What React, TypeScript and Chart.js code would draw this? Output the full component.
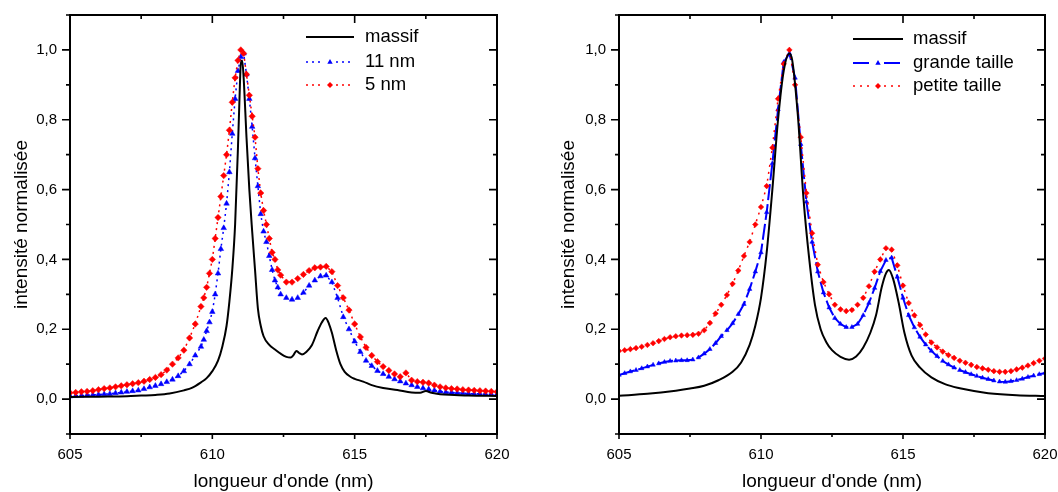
import React, { useEffect, useRef } from 'react';
import { Chart, registerables } from 'chart.js';

Chart.register(...registerables);

const FONT = "'Liberation Sans', Arial, sans-serif";

// axes
const xTickLabels = [605, 610, 615, 620];
const xMinorTicks = [607.5, 612.5, 617.5];
const yTickLabels = [0, 0.2, 0.4, 0.6, 0.8, 1.0];
const yMinorTicks = [-0.1, 0.1, 0.3, 0.5, 0.7, 0.9, 1.1];

// ---------- left panel ----------
const leftLabels = ['massif', '11 nm', '5 nm'];

const leftMassifX = [605, 606, 607, 607.5, 608, 608.5, 609, 609.3, 609.6, 609.8, 610, 610.2, 610.35, 610.5, 610.6, 610.7, 610.8, 610.9, 610.95, 611, 611.05, 611.1, 611.2, 611.3, 611.4, 611.5, 611.6, 611.7, 611.8, 612, 612.2, 612.4, 612.6, 612.75, 612.85, 612.95, 613.05, 613.15, 613.3, 613.5, 613.7, 613.85, 613.98, 614.1, 614.2, 614.35, 614.5, 614.65, 614.85, 615, 615.3, 615.6, 616, 616.5, 617, 617.3, 617.5, 617.7, 618, 618.5, 619, 620];
const leftMassifY = [0.006, 0.007, 0.008, 0.010, 0.012, 0.016, 0.025, 0.033, 0.048, 0.060, 0.080, 0.11, 0.15, 0.21, 0.28, 0.37, 0.50, 0.72, 0.85, 0.96, 0.97, 0.92, 0.75, 0.60, 0.48, 0.37, 0.26, 0.21, 0.18, 0.155, 0.142, 0.130, 0.121, 0.119, 0.126, 0.138, 0.132, 0.128, 0.135, 0.155, 0.195, 0.22, 0.232, 0.215, 0.19, 0.14, 0.10, 0.078, 0.064, 0.058, 0.050, 0.040, 0.032, 0.026, 0.019, 0.018, 0.023, 0.018, 0.014, 0.012, 0.010, 0.009];

const leftSampleX = [605, 605.2, 605.4, 605.6, 605.8, 606, 606.2, 606.4, 606.6, 606.8, 607, 607.2, 607.4, 607.6, 607.8, 608, 608.2, 608.4, 608.6, 608.8, 609, 609.2, 609.4,
  609.6, 609.7, 609.8, 609.9, 610, 610.1, 610.2, 610.3, 610.4, 610.5, 610.6, 610.7, 610.8, 610.9, 611, 611.1, 611.2, 611.3, 611.4, 611.5, 611.6, 611.7, 611.8, 611.9, 612, 612.1, 612.2, 612.3, 612.4,
  612.6, 612.8, 613, 613.2, 613.4, 613.6, 613.8, 614, 614.2, 614.4, 614.6, 614.8, 615, 615.2, 615.4, 615.6, 615.8, 616, 616.2, 616.4, 616.6, 616.8, 617, 617.2, 617.4, 617.6, 617.8, 618, 618.2, 618.4, 618.6, 618.8, 619, 619.2, 619.4, 619.6, 619.8, 620];
const left11nmY = [0.008, 0.009, 0.010, 0.011, 0.012, 0.013, 0.014, 0.015, 0.017, 0.019, 0.021, 0.023, 0.025, 0.029, 0.034, 0.038, 0.043, 0.049, 0.056, 0.066, 0.080, 0.100, 0.125,
  0.150, 0.170, 0.195, 0.22, 0.25, 0.30, 0.36, 0.43, 0.49, 0.56, 0.65, 0.76, 0.86, 0.94, 0.98, 0.99, 0.93, 0.86, 0.78, 0.69, 0.61, 0.53, 0.48, 0.45, 0.41, 0.37, 0.34, 0.32, 0.30,
  0.29, 0.285, 0.29, 0.305, 0.325, 0.34, 0.352, 0.354, 0.335, 0.29, 0.235, 0.20, 0.165, 0.135, 0.11, 0.095, 0.081, 0.072, 0.064, 0.057, 0.051, 0.045, 0.040, 0.035, 0.031, 0.028, 0.025, 0.022, 0.020, 0.019, 0.018, 0.017, 0.016, 0.015, 0.015, 0.014, 0.014, 0.013];
const left5nmY = [0.018, 0.019, 0.021, 0.022, 0.024, 0.027, 0.030, 0.032, 0.035, 0.038, 0.041, 0.044, 0.047, 0.051, 0.056, 0.062, 0.070, 0.083, 0.100, 0.118, 0.140, 0.175, 0.215,
  0.265, 0.29, 0.32, 0.36, 0.40, 0.46, 0.52, 0.58, 0.64, 0.70, 0.77, 0.85, 0.92, 0.97, 1.00, 0.99, 0.93, 0.87, 0.81, 0.75, 0.66, 0.59, 0.54, 0.50, 0.46, 0.42, 0.40, 0.37, 0.355,
  0.335, 0.335, 0.345, 0.357, 0.368, 0.376, 0.378, 0.380, 0.365, 0.325, 0.29, 0.255, 0.215, 0.178, 0.148, 0.125, 0.107, 0.093, 0.082, 0.072, 0.064, 0.075, 0.054, 0.050, 0.048, 0.046, 0.040, 0.035, 0.032, 0.030, 0.029, 0.027, 0.026, 0.025, 0.024, 0.023, 0.022, 0.021];

// ---------- right panel ----------
const rightLabels = ['massif', 'grande taille', 'petite taille'];

const rightMassifX = [605, 606, 607, 607.5, 608, 608.5, 609, 609.3, 609.6, 609.8, 610, 610.2, 610.4, 610.6, 610.8, 611, 611.1, 611.3, 611.5, 611.7, 611.9, 612.1, 612.3, 612.5, 612.8, 613.1, 613.35, 613.6, 613.85, 614.05, 614.25, 614.4, 614.5, 614.65, 614.85, 615.05, 615.3, 615.6, 616, 616.5, 617, 617.5, 618, 619, 620];
const rightMassifY = [0.0095, 0.015, 0.024, 0.030, 0.038, 0.054, 0.078, 0.105, 0.155, 0.21, 0.29, 0.42, 0.60, 0.80, 0.94, 0.99, 0.97, 0.81, 0.57, 0.40, 0.27, 0.20, 0.163, 0.14, 0.121, 0.113, 0.122, 0.148, 0.19, 0.24, 0.32, 0.36, 0.37, 0.345, 0.275, 0.19, 0.125, 0.09, 0.062, 0.042, 0.031, 0.023, 0.017, 0.011, 0.0086];

const rightSampleX = [605, 605.2, 605.4, 605.6, 605.8, 606, 606.2, 606.4, 606.6, 606.8, 607, 607.2, 607.4, 607.6, 607.8, 608, 608.2, 608.4, 608.6, 608.8, 609, 609.2, 609.4, 609.6, 609.8, 610, 610.2, 610.4, 610.6, 610.8, 611, 611.2, 611.4, 611.6, 611.8, 612, 612.2, 612.4, 612.6, 612.8, 613, 613.2, 613.4, 613.6, 613.8, 614, 614.2, 614.4, 614.6, 614.8, 615, 615.2, 615.4, 615.6, 615.8, 616, 616.2, 616.4, 616.6, 616.8, 617, 617.2, 617.4, 617.6, 617.8, 618, 618.2, 618.4, 618.6, 618.8, 619, 619.2, 619.4, 619.6, 619.8, 620];
const rightGrandeY = [0.069, 0.074, 0.079, 0.083, 0.088, 0.093, 0.098, 0.102, 0.106, 0.109, 0.110, 0.111, 0.111, 0.113, 0.119, 0.13, 0.143, 0.16, 0.18, 0.197, 0.217, 0.243, 0.272, 0.315, 0.365, 0.42, 0.535, 0.675, 0.83, 0.965, 0.99, 0.92, 0.73, 0.565, 0.45, 0.365, 0.305, 0.262, 0.232, 0.215, 0.206, 0.206, 0.215, 0.24, 0.275, 0.318, 0.366, 0.398, 0.405, 0.35, 0.29, 0.24, 0.205, 0.178, 0.156, 0.138, 0.123, 0.109, 0.099, 0.09, 0.083, 0.077, 0.071, 0.066, 0.061, 0.057, 0.053, 0.05, 0.049, 0.051, 0.054, 0.058, 0.063, 0.067, 0.071, 0.075];
const rightPetiteY = [0.138, 0.14, 0.143, 0.146, 0.15, 0.155, 0.16, 0.166, 0.172, 0.177, 0.18, 0.182, 0.183, 0.184, 0.187, 0.197, 0.218, 0.245, 0.27, 0.298, 0.33, 0.368, 0.41, 0.45, 0.50, 0.55, 0.61, 0.72, 0.86, 0.96, 1.0, 0.90, 0.75, 0.59, 0.475, 0.385, 0.335, 0.30, 0.27, 0.257, 0.252, 0.255, 0.27, 0.29, 0.323, 0.365, 0.40, 0.432, 0.428, 0.383, 0.325, 0.275, 0.24, 0.212, 0.185, 0.162, 0.148, 0.136, 0.126, 0.118, 0.11, 0.104, 0.098, 0.092, 0.088, 0.084, 0.08, 0.078, 0.078, 0.08, 0.085, 0.09, 0.096, 0.103, 0.11, 0.116];

const zip = (xs: number[], ys: number[]) => xs.map((x, i) => ({ x, y: ys[i] }));

const framePlugin = {
  id: 'frame',
  afterDatasetsDraw(chart: any) {
    const { ctx, chartArea, scales } = chart;
    const { left, right, top, bottom } = chartArea;
    const x = scales.x, y = scales.y;
    ctx.save();
    ctx.setLineDash([]);
    ctx.strokeStyle = '#000';
    ctx.lineWidth = 2;
    ctx.strokeRect(left, top, right - left, bottom - top);
    ctx.lineWidth = 1.6;
    ctx.beginPath();
    yTickLabels.forEach((v) => {
      const p = y.getPixelForValue(v);
      ctx.moveTo(left - 8, p); ctx.lineTo(left, p);
      ctx.moveTo(right - 8, p); ctx.lineTo(right, p);
    });
    yMinorTicks.forEach((v) => {
      const p = y.getPixelForValue(v);
      ctx.moveTo(left - 4, p); ctx.lineTo(left, p);
      ctx.moveTo(right - 4, p); ctx.lineTo(right, p);
    });
    xTickLabels.forEach((v) => {
      const p = x.getPixelForValue(v);
      ctx.moveTo(p, bottom); ctx.lineTo(p, bottom + 5);
      ctx.moveTo(p, top); ctx.lineTo(p, top + 8);
    });
    xMinorTicks.forEach((v) => {
      const p = x.getPixelForValue(v);
      ctx.moveTo(p, bottom); ctx.lineTo(p, bottom + 3);
      ctx.moveTo(p, top); ctx.lineTo(p, top + 4);
    });
    ctx.stroke();
    ctx.restore();
  },
};

function drawMarker(ctx: CanvasRenderingContext2D, style: string, cx: number, cy: number, r: number, color: string) {
  ctx.save();
  ctx.setLineDash([]);
  ctx.fillStyle = color;
  ctx.beginPath();
  if (style === 'triangle') {
    ctx.moveTo(cx, cy - r);
    ctx.lineTo(cx + r * 0.9, cy + r * 0.6);
    ctx.lineTo(cx - r * 0.9, cy + r * 0.6);
  } else {
    ctx.moveTo(cx, cy - r);
    ctx.lineTo(cx + r, cy);
    ctx.lineTo(cx, cy + r);
    ctx.lineTo(cx - r, cy);
  }
  ctx.closePath();
  ctx.fill();
  ctx.restore();
}

function makeLegend(labels: string[], lineX0: number, lineX1: number, textX: number, rowY: number[]) {
  return {
    id: 'customLegend',
    afterDatasetsDraw(chart: any) {
      const ctx: CanvasRenderingContext2D = chart.ctx;
      ctx.save();
      chart.data.datasets.forEach((ds: any, i: number) => {
        const yy = rowY[i];
        const mid = (lineX0 + lineX1) / 2;
        ctx.strokeStyle = ds.borderColor;
        ctx.lineWidth = ds.borderWidth;
        ctx.setLineDash(ds.borderDash || []);
        ctx.beginPath();
        if (ds.pointRadius > 0) {
          ctx.moveTo(lineX0, yy); ctx.lineTo(mid - 6, yy);
          ctx.stroke();
          ctx.beginPath();
          ctx.moveTo(mid + 6, yy); ctx.lineTo(lineX1, yy);
          ctx.stroke();
          drawMarker(ctx, ds.pointStyle, mid, yy, 3, ds.borderColor);
        } else {
          ctx.moveTo(lineX0, yy); ctx.lineTo(lineX1, yy);
          ctx.stroke();
        }
        ctx.setLineDash([]);
        ctx.fillStyle = '#000';
        ctx.font = `18.5px ${FONT}`;
        ctx.textBaseline = 'middle';
        ctx.textAlign = 'left';
        ctx.fillText(labels[i], textX, yy);
      });
      ctx.restore();
    },
  };
}

function makeOptions(yAxisWidth: number, padRight: number, yTitlePad: number) {
  return {
    responsive: false,
    animation: false as const,
    devicePixelRatio: 1,
    layout: { padding: { left: 0, right: padRight, top: 15, bottom: 0 } },
    plugins: { legend: { display: false }, tooltip: { enabled: false } },
    scales: {
      x: {
        type: 'linear' as const,
        min: 605,
        max: 620,
        afterBuildTicks: (s: any) => { s.ticks = xTickLabels.map((v) => ({ value: v })); },
        afterFit: (s: any) => { s.height = 58; s.paddingLeft = 0; s.paddingRight = 0; },
        grid: { display: false, drawTicks: false },
        border: { display: false },
        ticks: {
          padding: 12,
          color: '#000',
          maxRotation: 0,
          autoSkip: false,
          font: { family: FONT, size: 15, lineHeight: 1.2 },
          callback: (v: any) => String(v),
        },
        title: {
          display: true,
          text: "longueur d'onde (nm)",
          color: '#000',
          font: { family: FONT, size: 19, lineHeight: 1 },
          padding: { top: 0, bottom: 0.5 },
        },
      },
      y: {
        type: 'linear' as const,
        min: -0.1,
        max: 1.1,
        afterBuildTicks: (s: any) => { s.ticks = yTickLabels.map((v) => ({ value: v })); },
        afterFit: (s: any) => { s.width = yAxisWidth; s.paddingTop = 0; s.paddingBottom = 0; },
        grid: { display: false, drawTicks: false },
        border: { display: false },
        ticks: {
          padding: 13,
          color: '#000',
          font: { family: FONT, size: 15 },
          callback: (v: any) => Number(v).toFixed(1).replace('.', ','),
        },
        title: {
          display: true,
          text: 'intensité normalisée',
          color: '#000',
          font: { family: FONT, size: 19, lineHeight: 1 },
          padding: { top: yTitlePad, bottom: 0 },
        },
      },
    },
  };
}

export default function App() {
  const leftRef = useRef<HTMLCanvasElement>(null);
  const rightRef = useRef<HTMLCanvasElement>(null);

  useEffect(() => {
    const left = new Chart(leftRef.current!, {
      type: 'line',
      data: {
        datasets: [
          { label: leftLabels[0], data: zip(leftMassifX, leftMassifY), borderColor: '#000000', borderWidth: 2, pointRadius: 0, cubicInterpolationMode: 'monotone', order: 0 } as any,
          { label: leftLabels[1], data: zip(leftSampleX, left11nmY), borderColor: '#0000ff', backgroundColor: '#0000ff', borderWidth: 1.5, borderDash: [2, 4], pointStyle: 'triangle', pointRadius: 3.2, pointBorderWidth: 0.5, pointBackgroundColor: '#0000ff', pointBorderColor: '#0000ff', order: 2 },
          { label: leftLabels[2], data: zip(leftSampleX, left5nmY), borderColor: '#ff0000', backgroundColor: '#ff0000', borderWidth: 1.5, borderDash: [2, 4], pointStyle: 'rectRot', pointRadius: 3.2, pointBorderWidth: 0.5, pointBackgroundColor: '#ff0000', pointBorderColor: '#ff0000', order: 1 },
        ],
      },
      options: makeOptions(70, 32, 12.5) as any,
      plugins: [framePlugin, makeLegend(leftLabels, 306, 354, 365, [37, 62, 85])],
    });

    const right = new Chart(rightRef.current!, {
      type: 'line',
      data: {
        datasets: [
          { label: rightLabels[0], data: zip(rightMassifX, rightMassifY), borderColor: '#000000', borderWidth: 2, pointRadius: 0, cubicInterpolationMode: 'monotone', order: 0 } as any,
          { label: rightLabels[1], data: zip(rightSampleX, rightGrandeY), borderColor: '#0000ff', backgroundColor: '#0000ff', borderWidth: 2, borderDash: [16, 4], pointStyle: 'triangle', pointRadius: 2.6, pointBorderWidth: 0.5, pointBackgroundColor: '#0000ff', pointBorderColor: '#0000ff', order: 2 },
          { label: rightLabels[2], data: zip(rightSampleX, rightPetiteY), borderColor: '#ff0000', backgroundColor: '#ff0000', borderWidth: 1.5, borderDash: [2, 5], pointStyle: 'rectRot', pointRadius: 2.8, pointBorderWidth: 0.5, pointBackgroundColor: '#ff0000', pointBorderColor: '#ff0000', order: 1 },
        ],
      },
      options: makeOptions(90, 13, 30.5) as any,
      plugins: [framePlugin, makeLegend(rightLabels, 324, 374, 384, [39, 63, 86])],
    });

    return () => {
      left.destroy();
      right.destroy();
    };
  }, []);

  return (
    <div style={{ position: 'fixed', left: 0, top: 0, width: 1058, height: 492, background: '#fff' }}>
      <canvas ref={leftRef} width={529} height={492} style={{ position: 'absolute', left: 0, top: 0, width: 529, height: 492 }} />
      <canvas ref={rightRef} width={529} height={492} style={{ position: 'absolute', left: 529, top: 0, width: 529, height: 492 }} />
    </div>
  );
}
